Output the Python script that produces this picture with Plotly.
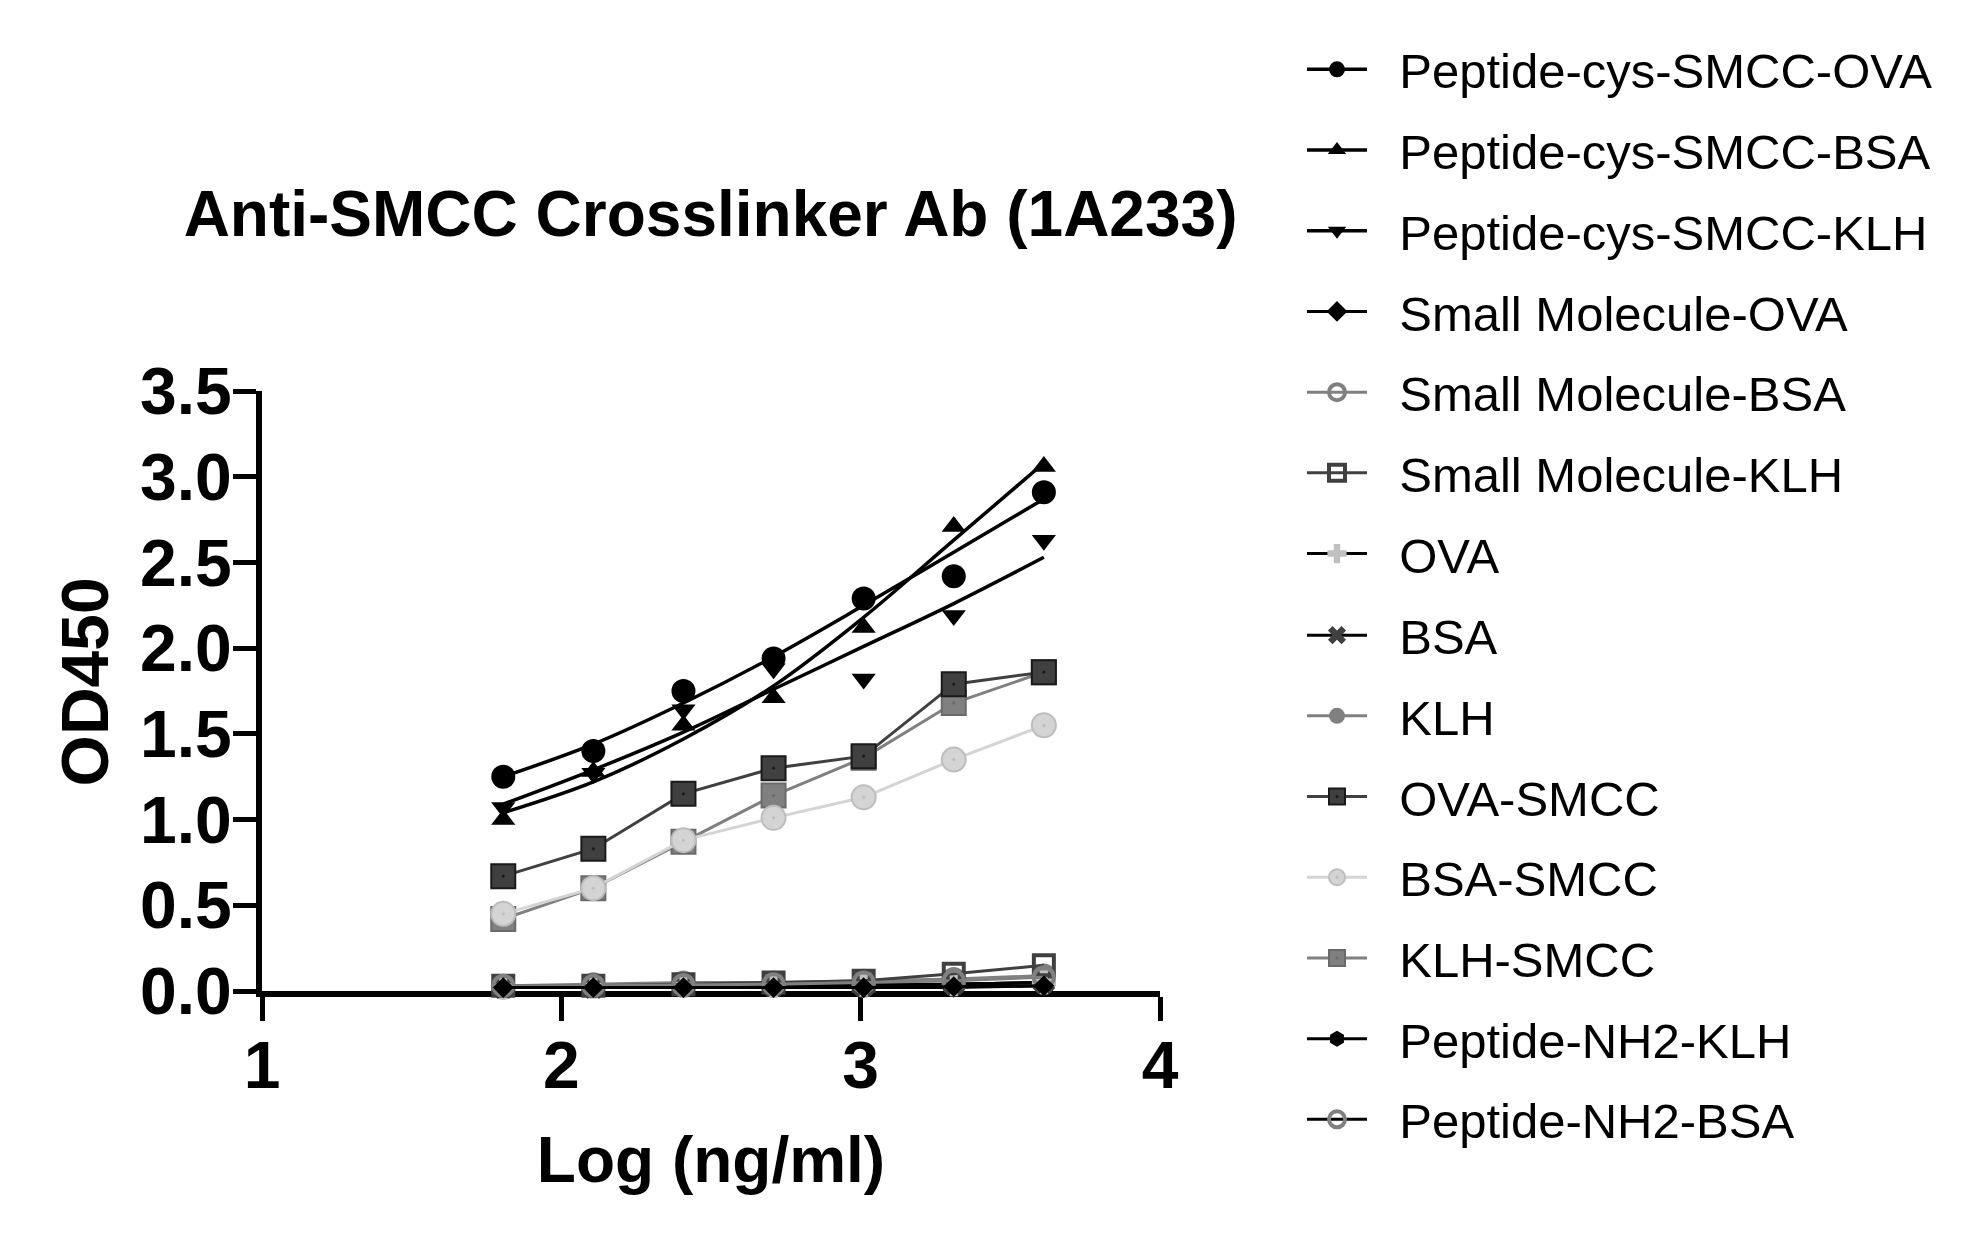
import plotly.graph_objects as go

# ---------------- data ----------------
log_conc = [1.806, 2.107, 2.408, 2.709, 3.010, 3.311, 3.612]

series_names = [
    "Peptide-cys-SMCC-OVA", "Peptide-cys-SMCC-BSA", "Peptide-cys-SMCC-KLH",
    "Small Molecule-OVA", "Small Molecule-BSA", "Small Molecule-KLH",
    "OVA", "BSA", "KLH", "OVA-SMCC", "BSA-SMCC", "KLH-SMCC",
    "Peptide-NH2-KLH", "Peptide-NH2-BSA",
]

pep_cys_ova = [1.25, 1.40, 1.75, 1.94, 2.29, 2.42, 2.91]
pep_cys_bsa = [1.00, 1.28, 1.55, 1.71, 2.12, 2.71, 3.06]
pep_cys_klh = [1.07, 1.27, 1.64, 1.88, 1.82, 2.19, 2.63]
small_ova = [0.02, 0.02, 0.02, 0.02, 0.02, 0.025, 0.03]
small_bsa = [0.03, 0.03, 0.035, 0.04, 0.05, 0.06, 0.08]
small_klh = [0.03, 0.03, 0.04, 0.05, 0.06, 0.10, 0.15]
ova = [0.02, 0.025, 0.03, 0.03, 0.04, 0.04, 0.05]
bsa = [0.02, 0.02, 0.03, 0.03, 0.03, 0.04, 0.05]
klh = [0.03, 0.04, 0.05, 0.05, 0.06, 0.07, 0.09]
ova_smcc = [0.67, 0.83, 1.15, 1.30, 1.37, 1.79, 1.86]
bsa_smcc = [0.45, 0.60, 0.88, 1.01, 1.13, 1.35, 1.55]
klh_smcc = [0.42, 0.60, 0.87, 1.14, 1.36, 1.68, 1.86]
pep_nh2_klh = [0.02, 0.02, 0.02, 0.02, 0.02, 0.02, 0.03]
pep_nh2_bsa = [0.02, 0.03, 0.03, 0.03, 0.03, 0.04, 0.05]

# fitted curves (Peptide-cys series)
fit_ova = [1.25, 1.44, 1.68, 1.95, 2.25, 2.56, 2.87]
fit_bsa = [1.04, 1.22, 1.47, 1.78, 2.18, 2.63, 3.08]
fit_klh = [1.09, 1.29, 1.51, 1.76, 2.01, 2.26, 2.53]

x_ticks = [1, 2, 3, 4]
y_ticks = [0.0, 0.5, 1.0, 1.5, 2.0, 2.5, 3.0, 3.5]

# ---------------- styles ----------------
BLACK = "#000000"
DARK = "#404040"
GRAY = "#808080"
LIGHT = "#d4d4d4"
PLUSC = "#c0c0c0"

styles = [
    # (values, fit, symbol, marker color, marker line color, line color)
    (pep_cys_ova, fit_ova, "circle", BLACK, BLACK, BLACK),
    (pep_cys_bsa, fit_bsa, "triangle-up", BLACK, BLACK, BLACK),
    (pep_cys_klh, fit_klh, "triangle-down", BLACK, BLACK, BLACK),
    (small_ova, None, "diamond", BLACK, BLACK, BLACK),
    (small_bsa, None, "circle-open", GRAY, GRAY, GRAY),
    (small_klh, None, "square-open", DARK, DARK, DARK),
    (ova, None, "cross", PLUSC, PLUSC, BLACK),
    (bsa, None, "x", DARK, DARK, BLACK),
    (klh, None, "circle", GRAY, GRAY, GRAY),
    (ova_smcc, None, "square-dot", DARK, "#1a1a1a", DARK),
    (bsa_smcc, None, "circle-dot", LIGHT, "#bdbdbd", LIGHT),
    (klh_smcc, None, "square-dot", GRAY, "#6a6a6a", GRAY),
    (pep_nh2_klh, None, "hexagon", BLACK, BLACK, BLACK),
    (pep_nh2_bsa, None, "circle-open", GRAY, GRAY, BLACK),
]

SIZES = {"circle": 24, "triangle-up": 21, "triangle-down": 21, "diamond": 16,
         "circle-open": 20, "square-open": 20, "cross": 20, "x": 20,
         "square-dot": 24, "circle-dot": 24, "hexagon": 20}

fig = go.Figure()

GAP = "\u00a0\u00a0"  # small gap between legend symbol and label
# draw in reverse order so the first series sits on top (as in the reference)
for idx in reversed(range(len(series_names))):
    name = series_names[idx]
    vals, fit, sym, mcol, mline, lcol = styles[idx]
    open_sym = sym.endswith("-open")
    mwidth = 4 if open_sym else (2 if sym.endswith("-dot") else 0)
    marker = dict(symbol=sym, size=SIZES[sym],
                  color=mcol, line=dict(color=mline, width=mwidth))
    grp = "g%d" % idx
    leg = "legend" if idx < 7 else "legend2"
    label = GAP + name
    if fit is not None:
        # fitted curve
        fig.add_trace(go.Scatter(
            x=log_conc, y=fit, mode="lines", line=dict(color=lcol, width=3.5, shape="spline"),
            showlegend=False, legendgroup=grp, legend=leg, cliponaxis=False, hoverinfo="skip"))
        # data points
        fig.add_trace(go.Scatter(
            x=log_conc, y=vals, mode="markers", marker=marker,
            showlegend=False, legendgroup=grp, legend=leg, cliponaxis=False, name=name))
        # legend entry (line + symbol)
        fig.add_trace(go.Scatter(
            x=[None], y=[None], mode="lines+markers", name=label,
            marker=marker, line=dict(color=lcol, width=3.5),
            legendgroup=grp, legend=leg, legendrank=idx + 1))
    else:
        fig.add_trace(go.Scatter(
            x=log_conc, y=vals, mode="lines+markers", name=label,
            marker=marker, line=dict(color=lcol, width=3),
            legendgroup=grp, legend=leg, legendrank=idx + 1, cliponaxis=False))

FONT = "Liberation Sans, Arial, sans-serif"

# page body has an 8px margin, so the figure is laid out 8px up/left of screen positions
L, T, PW, PH = 254, 383, 898, 600
LEG_X = (1294 - L) / PW

legend_common = dict(xanchor="left", yanchor="top",
                     font=dict(family=FONT, size=49, color="black"),
                     itemwidth=60, tracegroupgap=14, traceorder="grouped",
                     bgcolor="rgba(0,0,0,0)", borderwidth=0)

fig.update_layout(
    width=1972, height=1237,
    paper_bgcolor="white", plot_bgcolor="white",
    margin=dict(l=L, r=1972 - L - PW, t=T, b=1237 - T - PH),
    font=dict(family=FONT, color="black"),
    title=dict(text="<b>Anti-SMCC Crosslinker Ab (1A233)</b>",
               x=0.4995, xref="paper", xanchor="center",
               y=1 - 206 / 1237, yref="container", yanchor="middle",
               font=dict(family=FONT, size=64, color="black")),
    xaxis=dict(range=[1, 4], tickvals=x_ticks, ticktext=[str(t) for t in x_ticks],
               showgrid=False, zeroline=False, showline=True, linecolor="black", linewidth=6,
               ticks="outside", ticklen=24, tickwidth=5, tickcolor="black",
               tickfont=dict(family=FONT, size=66, weight="bold"),
               ticklabelstandoff=-12,
               layer="below traces",
               title=dict(text="<b>Log (ng/ml)</b>", standoff=38,
                          font=dict(family=FONT, size=64))),
    yaxis=dict(range=[0, 3.5], tickvals=y_ticks, ticktext=["%.1f" % t for t in y_ticks],
               showgrid=False, zeroline=False, showline=True, linecolor="black", linewidth=6,
               ticks="outside", ticklen=23, tickwidth=5, tickcolor="black",
               tickfont=dict(family=FONT, size=66, weight="bold"),
               ticklabelstandoff=-12,
               layer="below traces",
               title=dict(text="<b>\u00a0OD450</b>", standoff=12,
                          font=dict(family=FONT, size=66))),
    legend=dict(x=LEG_X, y=1.6, **legend_common),
    legend2=dict(x=LEG_X, y=0.657, **legend_common),
)

fig.write_html("out.html")
